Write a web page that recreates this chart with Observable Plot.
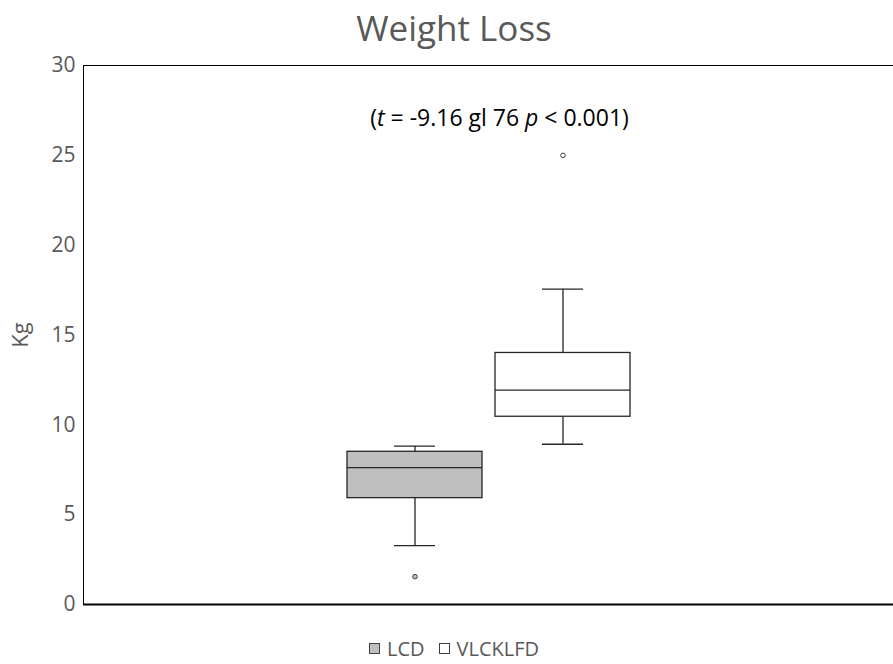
<!DOCTYPE html>
<html>
<head>
<meta charset="utf-8">
<script src="https://cdn.jsdelivr.net/npm/d3@7"></script>
<script src="https://cdn.jsdelivr.net/npm/@observablehq/plot@0.6"></script>
<style>
  body { margin: 0; background: #fff; font-family: "Open Sans", sans-serif; }
  #title { height: 50px; line-height: 55px; text-align: center; font-size: 35px; color: #595959; padding-left: 15px; white-space: nowrap; }
  #legend { display: flex; justify-content: center; align-items: center; gap: 14px; font-size: 20px; color: #595959; height: 36px; padding-left: 15px; }
  #legend .item { display: flex; align-items: center; gap: 7px; }
  #legend .sw { width: 11px; height: 11px; border: 1.5px solid #404040; box-sizing: border-box; }
</style>
</head>
<body>
<div id="title"></div>
<div id="chart"></div>
<div id="legend"></div>
<script>
const titleText = "Weight Loss";
const yLabel = "Kg";
const groups = ["LCD", "VLCKLFD"];
const lowerWhisker = [3.28, 8.92];
const q1 = [5.92, 10.45];
const median = [7.62, 11.93];
const q3 = [8.50, 14.0];
const upperWhisker = [8.81, 17.55];
const outlierGroups = ["LCD", "VLCKLFD"];
const outlierValues = [1.55, 25.0];
const groupFills = ["#bfbfbf", "#ffffff"];
const yTicks = [0, 5, 10, 15, 20, 25, 30];
const annotationParts = [["(", false], ["t", true], [" = -9.16 gl 76 ", false], ["p", true], [" < 0.001)", false]];

document.getElementById("title").textContent = titleText;

const stats = groups.map((g, i) => ({
  group: g, lo: lowerWhisker[i], q1: q1[i], med: median[i], q3: q3[i], hi: upperWhisker[i], fill: groupFills[i]
}));
const outliers = outlierGroups.map((g, i) => ({group: g, value: outlierValues[i], fill: groupFills[groups.indexOf(g)]}));
const annotation = annotationParts.map(d => d[0]).join("");

const plot = Plot.plot({
  width: 893,
  height: 580,
  marginTop: 15,
  marginLeft: 83,
  marginRight: 0,
  marginBottom: 26,
  style: {fontFamily: "'Open Sans', sans-serif", color: "#595959", background: "#fff"},
  x: {domain: groups, paddingInner: 0.09, paddingOuter: 1.78, axis: null},
  y: {domain: [0, 30]},
  marks: [
    Plot.axisY({ticks: yTicks, tickSize: 0, tickPadding: 8, fontSize: 21, label: yLabel, labelAnchor: "center", labelArrow: false, labelOffset: 71}),
    Plot.ruleX(stats, {x: "group", y1: "lo", y2: "q1", stroke: "#262626", strokeWidth: 1.3}),
    Plot.ruleX(stats, {x: "group", y1: "q3", y2: "hi", stroke: "#262626", strokeWidth: 1.3}),
    Plot.tickY(stats, {x: "group", y: "lo", stroke: "#262626", strokeWidth: 1.3, insetLeft: 47, insetRight: 47}),
    Plot.tickY(stats, {x: "group", y: "hi", stroke: "#262626", strokeWidth: 1.3, insetLeft: 47, insetRight: 47}),
    Plot.barY(stats, {x: "group", y1: "q1", y2: "q3", fill: "fill", stroke: "#262626", strokeWidth: 1.3}),
    Plot.tickY(stats, {x: "group", y: "med", stroke: "#262626", strokeWidth: 1.3}),
    Plot.dot(outliers, {x: "group", y: "value", r: 2.3, fill: "fill", stroke: "#404040", strokeWidth: 1}),
    Plot.ruleY([30], {stroke: "#000", strokeWidth: 1}),
    Plot.ruleY([0], {stroke: "#000", strokeWidth: 2}),
    Plot.frame({anchor: "left", stroke: "#000", strokeWidth: 1}),
    Plot.text([annotation], {frameAnchor: "top", dy: 53, dx: 11, lineAnchor: "middle", fontSize: 23, fill: "#000", className: "annot"})
  ]
});
plot.querySelectorAll('[aria-label="y-axis label"] text, g[aria-label="y-axis label"]').forEach(el => el.setAttribute("font-size", 22));
document.getElementById("chart").appendChild(plot);

// italicize t and p in annotation
const annotText = d3.select(plot).select("g.annot text");
if (!annotText.empty()) {
  annotText.text("");
  annotationParts.forEach(([s, it]) => {
    annotText.append("tspan").attr("font-style", it ? "italic" : "normal").text(s);
  });
}

const legend = document.getElementById("legend");
groups.forEach((g, i) => {
  const item = document.createElement("div");
  item.className = "item";
  const sw = document.createElement("div");
  sw.className = "sw";
  sw.style.background = groupFills[i];
  const lab = document.createElement("span");
  lab.textContent = g;
  item.appendChild(sw);
  item.appendChild(lab);
  legend.appendChild(item);
});
</script>
</body>
</html>
